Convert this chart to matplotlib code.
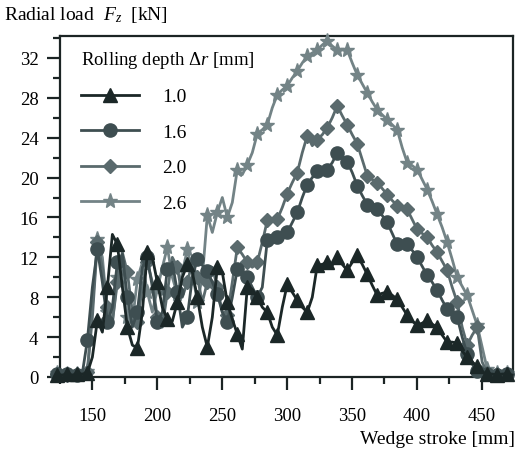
import numpy as np
import matplotlib
matplotlib.use("Agg")
import matplotlib.pyplot as plt
from matplotlib.ticker import MultipleLocator

plt.rcParams["font.family"] = ["Liberation Serif", "DejaVu Serif"]
plt.rcParams["mathtext.fontset"] = "custom"
plt.rcParams["mathtext.rm"] = "Liberation Serif"
plt.rcParams["mathtext.it"] = "Liberation Serif:italic"

# wedge stroke sampling positions [mm]
stroke = np.arange(92) * 3.85 + 123.0

depths = ["1.0", "1.6", "2.0", "2.6"]

load_10 = [0.2, 0.2, 0.3, 0.2, 0.3, 0.3, 0.4, 2.0, 5.7, 4.5,
           9.0, 14.3, 13.3, 9.0, 5.0, 3.2, 2.9, 6.5, 12.5, 12.0,
           9.5, 7.0, 5.8, 5.6, 7.5, 10.0, 11.3, 10.5, 8.0, 5.0,
           3.0, 6.0, 11.0, 10.5, 7.5, 5.8, 4.3, 2.8, 9.0, 8.8,
           8.0, 7.0, 6.5, 5.0, 4.2, 7.0, 9.3, 8.5, 7.7, 7.0,
           6.5, 8.0, 11.2, 11.3, 11.5, 11.2, 12.0, 11.3, 10.7, 11.5,
           12.2, 11.3, 10.3, 9.2, 8.2, 8.4, 8.5, 8.2, 7.8, 7.0,
           6.2, 5.6, 5.2, 5.4, 5.7, 5.3, 5.0, 4.2, 3.5, 3.5,
           3.4, 2.6, 2.0, 1.5, 1.1, 0.5, 0.3, 0.3, 0.2, 0.3,
           0.3, 0.2]

load_16 = [0.3, 0.2, 0.3, 0.3, 0.2, 0.4, 3.7, 9.0, 12.8, 9.5,
           5.5, 7.0, 11.5, 12.3, 8.0, 5.0, 6.5, 11.0, 12.0, 9.0,
           5.5, 6.5, 10.8, 11.5, 8.5, 5.0, 6.0, 10.0, 11.8, 11.2,
           10.6, 9.5, 8.3, 6.5, 5.5, 8.0, 10.8, 10.5, 10.0, 9.0,
           8.0, 9.0, 13.7, 13.8, 14.0, 14.2, 14.5, 15.5, 16.5, 18.0,
           19.3, 20.0, 20.7, 20.8, 20.8, 21.5, 22.5, 22.0, 21.6, 20.5,
           19.2, 18.2, 17.3, 17.0, 16.8, 16.2, 15.5, 14.4, 13.3, 13.3,
           13.3, 12.7, 12.0, 11.1, 10.2, 9.5, 8.7, 7.7, 6.8, 6.4,
           6.0, 4.0, 2.3, 1.3, 0.6, 0.4, 0.3, 0.3, 0.2, 0.3,
           0.3, 0.3]

load_20 = [0.3, 0.3, 0.2, 0.3, 0.3, 0.2, 0.5, 6.0, 13.5, 11.0,
           7.0, 5.5, 9.5, 12.5, 10.5, 6.5, 5.5, 9.0, 11.5, 9.5,
           6.0, 5.0, 8.5, 12.0, 11.0, 8.0, 9.5, 11.5, 10.0, 7.5,
           9.5, 11.0, 9.0, 6.5, 6.2, 9.5, 13.0, 12.3, 11.5, 11.0,
           11.5, 13.5, 15.7, 15.7, 15.8, 17.0, 18.4, 19.5, 20.5, 22.5,
           24.2, 23.2, 23.8, 24.3, 25.0, 26.0, 27.2, 26.2, 25.3, 24.3,
           23.4, 21.8, 20.2, 19.8, 19.5, 18.9, 18.3, 17.7, 17.2, 17.0,
           16.8, 15.8, 14.8, 14.4, 14.0, 13.2, 12.5, 11.6, 10.7, 9.0,
           7.5, 5.0, 3.2, 4.2, 5.0, 1.5, 0.4, 0.3, 0.3, 0.2,
           0.3, 0.3]

load_26 = [0.4, 0.3, 0.3, 0.4, 0.3, 0.3, 0.6, 7.0, 13.8, 12.0,
           6.5, 5.5, 10.0, 11.0, 6.0, 5.5, 9.8, 11.5, 8.5, 6.5,
           8.8, 11.0, 13.0, 10.0, 8.3, 10.5, 12.8, 10.5, 7.5, 10.0,
           16.2, 14.5, 16.5, 18.0, 16.0, 17.5, 20.8, 20.3, 21.3, 22.5,
           24.4, 24.8, 25.3, 27.0, 28.3, 28.8, 29.2, 30.0, 30.7, 31.5,
           32.2, 32.5, 32.8, 33.3, 33.7, 33.2, 32.8, 32.8, 32.8, 31.5,
           30.3, 29.4, 28.5, 27.6, 26.8, 26.3, 25.8, 25.3, 24.8, 23.0,
           21.5, 21.2, 20.8, 19.8, 18.8, 17.6, 16.3, 15.0, 13.5, 11.8,
           10.0, 9.1, 8.2, 6.7, 5.2, 3.0, 0.8, 0.5, 0.4, 0.5,
           0.4, 0.4]

loads = [load_10, load_16, load_20, load_26]
markers = ["^", "o", "D", "*"]
msizes = [10, 9.5, 7.5, 11]
colors = ["#1b2727", "#3e4e51", "#5a6a6d", "#738386"]
dark = "#1b2424"

fig = plt.figure(figsize=(5.17, 4.56), dpi=100)
ax = fig.add_axes([60 / 517, 78 / 456, 453 / 517, 341 / 456])

# draw lightest first so darker curves lie on top
for lab, y, m, ms, c in reversed(list(zip(depths, loads, markers, msizes, colors))):
    ax.plot(stroke, y, color=c, lw=2.0, marker=m, ms=ms, markevery=2,
            mec=c, mfc=c, label=lab, clip_on=False, zorder=3)

ax.set_xlim(125, 474)
ax.set_ylim(0, 34.2)
ax.xaxis.set_major_locator(MultipleLocator(50))
ax.xaxis.set_minor_locator(MultipleLocator(25))
ax.yaxis.set_major_locator(MultipleLocator(4))
ax.yaxis.set_minor_locator(MultipleLocator(2))
ax.tick_params(which="both", direction="out", width=1.6, color=dark,
               labelsize=13.5, top=False, right=False)
ax.tick_params(which="major", length=9.5, pad=6)
ax.tick_params(which="minor", length=5)
ax.tick_params(axis="x", which="major", pad=12)
for s in ax.spines.values():
    s.set_linewidth(1.6)
    s.set_color(dark)

fig.text(4 / 517, 1 - 15 / 456, r"Radial load  $F_z$  [kN]", fontsize=14,
         ha="left", va="center")
fig.text(515 / 517, 1 - 440 / 456, "Wedge stroke [mm]", fontsize=14,
         ha="right", va="center")

h, l = ax.get_legend_handles_labels()
leg = ax.legend(h[::-1], l[::-1], title=r"Rolling depth $\Delta r$ [mm]",
                loc="upper left", bbox_to_anchor=(0.02, 0.997), frameon=False,
                fontsize=14, title_fontsize=13.5, handlelength=3.0,
                handletextpad=1.2, labelspacing=0.92, borderaxespad=0.2)
leg._legend_box.align = "left"
leg._legend_box.sep = 13

fig.savefig("out.png", dpi=100)
